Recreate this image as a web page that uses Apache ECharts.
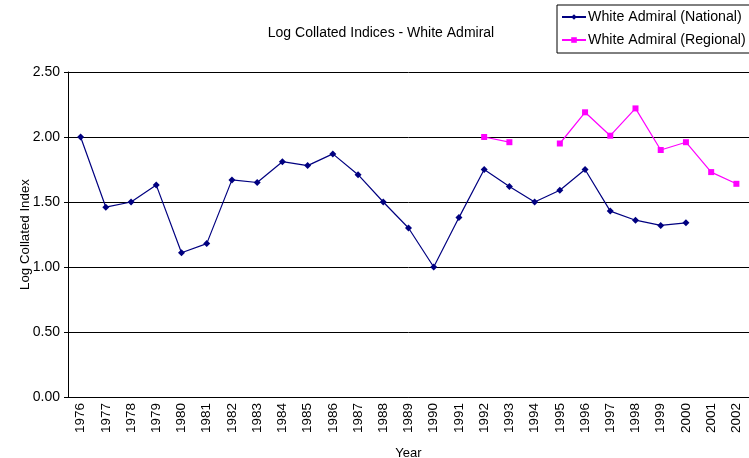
<!DOCTYPE html>
<html>
<head>
<meta charset="utf-8">
<script src="https://cdn.jsdelivr.net/npm/echarts@6/dist/echarts.min.js"></script>
<style>
  html, body { margin: 0; padding: 0; background: #fff; }
  #chart { width: 749px; height: 458px; }
</style>
</head>
<body>
<div id="chart"></div>
<script>
const years = ['1976', '1977', '1978', '1979', '1980', '1981', '1982', '1983', '1984', '1985',
  '1986', '1987', '1988', '1989', '1990', '1991', '1992', '1993', '1994', '1995',
  '1996', '1997', '1998', '1999', '2000', '2001', '2002']

const national = [2.00, 1.46, 1.50, 1.63, 1.11, 1.18, 1.67, 1.65, 1.81, 1.78,
  1.87, 1.71, 1.50, 1.30, 1.00, 1.38, 1.75, 1.62, 1.50, 1.59,
  1.75, 1.43, 1.36, 1.32, 1.34, null, null]

const regional = [null, null, null, null, null, null, null, null, null, null,
  null, null, null, null, null, null, 2.00, 1.96, null, 1.95,
  2.19, 2.01, 2.22, 1.90, 1.96, 1.73, 1.64]

const font = 'Liberation Sans, Arial, sans-serif'

const chart = echarts.init(document.getElementById('chart'))

chart.setOption({
  animation: false,
  title: {
    text: 'Log Collated Indices - White Admiral',
    left: 376,
    top: 21,
    textAlign: 'center',
    textStyle: { fontFamily: font, fontSize: 14, fontWeight: 'normal', color: '#000' }
  },
  legend: {
    orient: 'vertical',
    left: 557,
    top: 5,
    padding: [5, 8, 6, 4],
    itemGap: 9,
    itemWidth: 24,
    itemHeight: 7,
    borderColor: '#000',
    borderWidth: 1,
    textStyle: { fontFamily: font, fontSize: 14.2, color: '#000', padding: [0, 0, 0, -3] },
    data: ['White Admiral (National)', 'White Admiral (Regional)']
  },
  grid: { left: 68, top: 72, right: 0, bottom: 61, outerBoundsMode: 'none' },
  xAxis: {
    type: 'category',
    data: years,
    name: 'Year',
    nameLocation: 'middle',
    nameGap: 50,
    nameMoveOverlap: false,
    nameTextStyle: { fontFamily: font, fontSize: 13, color: '#000' },
    axisLine: { lineStyle: { color: '#000' } },
    axisTick: { lineStyle: { color: '#000' }, length: 4 },
    axisLabel: { rotate: 90, fontFamily: font, fontSize: 13.5, color: '#000', margin: 6 }
  },
  yAxis: {
    type: 'value',
    min: 0,
    max: 2.5,
    interval: 0.5,
    name: 'Log Collated Index',
    nameLocation: 'middle',
    nameGap: 36,
    nameMoveOverlap: false,
    nameTextStyle: { fontFamily: font, fontSize: 13.3, color: '#000' },
    axisLine: { show: true, lineStyle: { color: '#000' } },
    axisTick: { show: true, lineStyle: { color: '#000' }, length: 4 },
    axisLabel: { formatter: v => v.toFixed(2), fontFamily: font, fontSize: 14, color: '#000', margin: 8 },
    splitLine: { lineStyle: { color: '#000' } }
  },
  series: [
    {
      name: 'White Admiral (National)',
      type: 'line',
      data: national,
      symbol: 'diamond',
      symbolSize: 7,
      color: '#000080',
      lineStyle: { width: 1.2 },
      connectNulls: false
    },
    {
      name: 'White Admiral (Regional)',
      type: 'line',
      data: regional,
      symbol: 'rect',
      symbolSize: 6,
      color: '#ff00ff',
      lineStyle: { width: 1.2 },
      connectNulls: false
    }
  ]
})
</script>
</body>
</html>
